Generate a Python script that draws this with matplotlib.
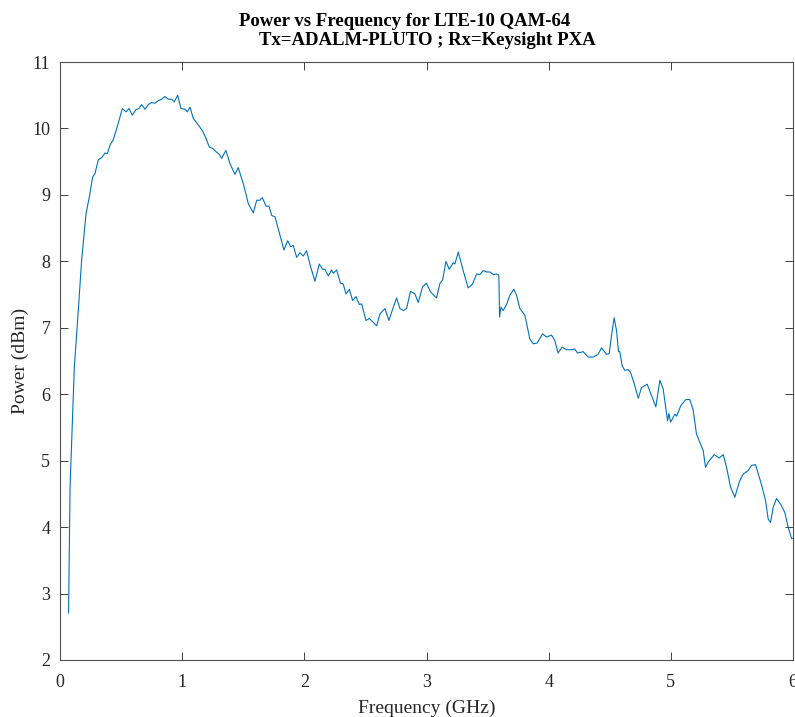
import matplotlib
matplotlib.use("Agg")
import matplotlib.pyplot as plt

# values (GHz, dBm)
freq_ghz = [
    0.07, 0.082, 0.117, 0.155, 0.177, 0.213, 0.24, 0.267, 0.286, 0.314,
    0.341, 0.368, 0.387, 0.409, 0.436, 0.477, 0.51, 0.54, 0.565, 0.592,
    0.62, 0.646, 0.668, 0.696, 0.723, 0.75, 0.777, 0.805, 0.832, 0.859,
    0.886, 0.914, 0.935, 0.963, 0.99, 1.023, 1.042, 1.064, 1.091, 1.113,
    1.14, 1.168, 1.195, 1.222, 1.249, 1.277, 1.304, 1.323, 1.358, 1.391,
    1.432, 1.459, 1.50, 1.541, 1.582, 1.61, 1.637, 1.656, 1.686, 1.711,
    1.733, 1.76, 1.795, 1.833, 1.863, 1.888, 1.909, 1.937, 1.964, 1.991,
    2.018, 2.051, 2.087, 2.122, 2.15, 2.168, 2.196, 2.223, 2.237, 2.264,
    2.296, 2.318, 2.341, 2.368, 2.395, 2.422, 2.45, 2.469, 2.504, 2.532,
    2.559, 2.592, 2.619, 2.66, 2.692, 2.719, 2.755, 2.782, 2.81, 2.837,
    2.869, 2.905, 2.932, 2.968, 3.0, 3.033, 3.082, 3.11, 3.132, 3.159,
    3.186, 3.219, 3.232, 3.26, 3.30, 3.341, 3.377, 3.41, 3.437, 3.464,
    3.492, 3.519, 3.546, 3.573, 3.592, 3.598, 3.609, 3.628, 3.655, 3.682,
    3.715, 3.737, 3.764, 3.805, 3.846, 3.873, 3.906, 3.95, 3.982, 4.023,
    4.05, 4.077, 4.11, 4.146, 4.187, 4.214, 4.236, 4.283, 4.323, 4.364,
    4.405, 4.433, 4.473, 4.495, 4.52, 4.536, 4.555, 4.572, 4.582, 4.601,
    4.623, 4.65, 4.67, 4.70, 4.733, 4.76, 4.806, 4.842, 4.877, 4.91,
    4.937, 4.973, 4.984, 4.998, 5.033, 5.047, 5.082, 5.123, 5.155, 5.183,
    5.21, 5.243, 5.265, 5.284, 5.306, 5.355, 5.396, 5.429, 5.456, 5.489,
    5.524, 5.56, 5.592, 5.633, 5.66, 5.693, 5.742, 5.775, 5.797, 5.816,
    5.838, 5.865, 5.90, 5.933, 5.96, 5.988, 6.0,
]
power_dbm = [
    2.71, 4.6, 6.4, 7.41, 8.02, 8.72, 8.97, 9.27, 9.32, 9.53,
    9.56, 9.63, 9.62, 9.75, 9.83, 10.08, 10.30, 10.25, 10.30, 10.20,
    10.28, 10.30, 10.36, 10.29, 10.36, 10.39, 10.38, 10.42, 10.44, 10.48,
    10.44, 10.44, 10.40, 10.50, 10.30, 10.29, 10.25, 10.32, 10.15, 10.10,
    10.03, 9.96, 9.85, 9.72, 9.70, 9.65, 9.61, 9.55, 9.67, 9.47,
    9.31, 9.41, 9.17, 8.87, 8.73, 8.92, 8.92, 8.96, 8.83, 8.83,
    8.69, 8.67, 8.43, 8.17, 8.31, 8.22, 8.24, 8.06, 8.13, 8.08,
    8.16, 7.92, 7.70, 7.96, 7.88, 7.88, 7.78, 7.87, 7.82, 7.87,
    7.67, 7.66, 7.51, 7.58, 7.41, 7.47, 7.35, 7.36, 7.11, 7.14,
    7.09, 7.03, 7.21, 7.29, 7.11, 7.26, 7.45, 7.29, 7.26, 7.29,
    7.55, 7.51, 7.38, 7.62, 7.67, 7.54, 7.45, 7.67, 7.72, 8.0,
    7.88, 7.98, 7.96, 8.14, 7.86, 7.60, 7.66, 7.81, 7.80, 7.86,
    7.84, 7.84, 7.80, 7.81, 7.79, 7.16, 7.31, 7.26, 7.35, 7.49,
    7.58, 7.49, 7.29, 7.19, 6.83, 6.76, 6.77, 6.91, 6.86, 6.89,
    6.81, 6.62, 6.71, 6.67, 6.67, 6.68, 6.62, 6.64, 6.56, 6.56,
    6.60, 6.70, 6.60, 6.61, 6.96, 7.15, 6.96, 6.64, 6.64, 6.43,
    6.36, 6.37, 6.33, 6.16, 5.94, 6.10, 6.15, 5.98, 5.81, 6.21,
    6.08, 5.60, 5.71, 5.58, 5.70, 5.67, 5.83, 5.92, 5.92, 5.76,
    5.40, 5.25, 5.15, 4.90, 4.98, 5.09, 5.04, 5.09, 4.90, 4.60,
    4.45, 4.68, 4.80, 4.85, 4.93, 4.94, 4.64, 4.40, 4.12, 4.07,
    4.30, 4.43, 4.34, 4.22, 4.0, 3.83, 3.83,
]

x_ticks = [0, 1, 2, 3, 4, 5, 6]
y_ticks = [2, 3, 4, 5, 6, 7, 8, 9, 10, 11]
title_lines = ["Power vs Frequency for LTE-10 QAM-64", "Tx=ADALM-PLUTO ; Rx=Keysight PXA"]

plt.rcParams["font.family"] = ["Liberation Serif", "DejaVu Serif"]

fig = plt.figure(figsize=(7.95, 7.17), dpi=100)
ax = fig.add_axes([0.0755, 0.0795, 0.922, 0.834])

ax.plot(freq_ghz, power_dbm, color="#0072BD", linewidth=0.8)

ax.set_xlim(0, 6)
ax.set_ylim(2, 11)
ax.set_xticks(x_ticks)
ax.set_yticks(y_ticks)
ax.tick_params(direction="in", top=True, right=True, length=5.5,
               width=0.7, color="#404040", labelsize=13, labelcolor="#262626")
ax.tick_params(axis="x", pad=10)
ax.tick_params(axis="y", pad=7)
for spine in ax.spines.values():
    spine.set_color("#505050")
    spine.set_linewidth(0.8)

ax.set_xlabel("Frequency (GHz)", fontsize=14, color="#262626", labelpad=6)
ax.set_ylabel("Power (dBm)", fontsize=14, color="#262626", labelpad=2.5)

# the two title lines are not centred on the same point in the original
fig.text(0.5094, 0.9637, title_lines[0], ha="center", va="baseline",
         fontsize=13.5, fontweight="bold")
fig.text(0.537, 0.9372, title_lines[1], ha="center", va="baseline",
         fontsize=13.5, fontweight="bold")

fig.savefig("out.png", dpi=100)
